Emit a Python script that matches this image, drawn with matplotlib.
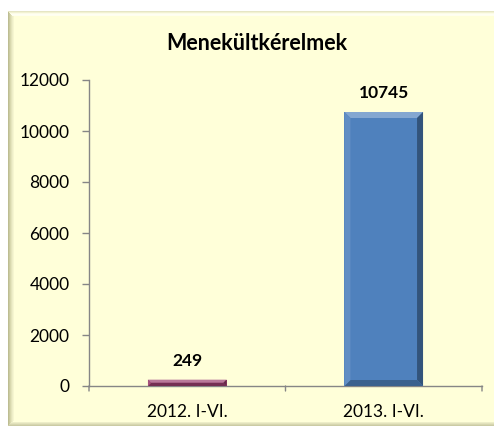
import matplotlib
matplotlib.use("Agg")
import matplotlib.pyplot as plt
from matplotlib.patches import Rectangle, Polygon
import numpy as np

categories = ["2012. I-VI.", "2013. I-VI."]
values = [249, 10745]
bar_colors = ["#9B3F6E", "#4F81BD"]
yticks = [0, 2000, 4000, 6000, 8000, 10000, 12000]
title = "Menekültkérelmek"

plt.rcParams["font.family"] = ["Lato", "DejaVu Sans"]

W, H = 494, 430
fig = plt.figure(figsize=(W / 100, H / 100), dpi=100)
fig.patch.set_facecolor("white")


def px_rect(x0, y0, x1, y1, color, z=-10):
    # rectangle in pixel coordinates measured from the top-left corner
    fig.patches.append(Rectangle((x0 / W, 1 - y1 / H), (x1 - x0) / W, (y1 - y0) / H,
                                 transform=fig.transFigure, facecolor=color,
                                 edgecolor="none", zorder=z))


# chart frame with a bevelled border
px_rect(8, 11, W, 426, "#FFFFD9", -10)
left_shades = ["#BDBD92", "#CACAA0", "#D8D8AE", "#E4E4BC", "#EEEEC8", "#F6F6D0"]
for i, c in enumerate(left_shades):
    px_rect(8 + i, 11 + i, 9 + i, 426 - i, c, -9)
top_shades = ["#E6E6C4", "#F2F2D2", "#FCFCE8", "#FFFFF2", "#FFFFEE"]
for i, c in enumerate(top_shades):
    px_rect(8 + i, 11 + i, W, 12 + i, c, -9)
bottom_shades = ["#CBCBA4", "#D6D6B0", "#E2E2BC", "#EDEDC8"]
for i, c in enumerate(bottom_shades):
    px_rect(8 + i, 425 - i, W, 426 - i, c, -9)

ax = fig.add_axes([89 / W, 1 - 386 / H, (482 - 89) / W, (386 - 80) / H])
ax.set_facecolor("none")

x = np.arange(len(categories))
bars = ax.bar(x, values, width=0.4, color=bar_colors, edgecolor="none", zorder=3)

ax.set_xlim(-0.5, len(categories) - 0.5)
ax.set_ylim(0, 12000)
ax.set_yticks(yticks)
ax.set_yticklabels([str(v) for v in yticks], fontsize=12.5, color="black")
ax.set_xticks(x)
ax.set_xticklabels(categories, fontsize=12.5)
ax.tick_params(axis="x", length=0, pad=13)
ax.tick_params(axis="y", length=5, width=1, color="#868686", pad=9)

# category boundary ticks on the x axis
for b in np.arange(-0.5, len(categories), 1.0):
    ax.annotate("", xy=(b, 0), xycoords="data", xytext=(0, -5),
                textcoords="offset pixels",
                arrowprops=dict(arrowstyle="-", color="#868686", lw=1,
                                shrinkA=0, shrinkB=0))

for s in ["top", "right"]:
    ax.spines[s].set_visible(False)
for s in ["left", "bottom"]:
    ax.spines[s].set_color("#868686")
    ax.spines[s].set_linewidth(1)

# value labels
for xi, v in zip(x, values):
    ax.annotate(str(v), xy=(xi, v), xytext=(0, 11), textcoords="offset pixels",
                ha="center", va="bottom", fontsize=12.5, fontweight="bold")

fig.text(257 / W, 1 - 44 / H, title, ha="center", va="center",
         fontsize=15.5, fontweight="bold")

# bevel on bar edges
fig.canvas.draw()
inv = fig.transFigure.inverted()


def shade(c, f):
    c = np.array(matplotlib.colors.to_rgb(c))
    if f > 0:
        return tuple(c + (1 - c) * f)
    return tuple(c * (1 + f))


for rect, col in zip(bars.patches, bar_colors):
    bb = rect.get_window_extent()
    x0, y0, x1, y1 = bb.x0, bb.y0, bb.x1, bb.y1
    d = min(6, (y1 - y0) / 2, (x1 - x0) / 2)
    faces = [
        ([(x0, y1), (x1, y1), (x1 - d, y1 - d), (x0 + d, y1 - d)], shade(col, 0.3)),
        ([(x1, y1), (x1, y0), (x1 - d, y0 + d), (x1 - d, y1 - d)], shade(col, -0.35)),
        ([(x0, y0), (x1, y0), (x1 - d, y0 + d), (x0 + d, y0 + d)], shade(col, -0.25)),
        ([(x0, y1), (x0, y0), (x0 + d, y0 + d), (x0 + d, y1 - d)], shade(col, 0.1)),
    ]
    for pts, fc in faces:
        pts_fig = inv.transform(np.array(pts))
        fig.patches.append(Polygon(pts_fig, closed=True, transform=fig.transFigure,
                                   facecolor=fc, edgecolor="none", zorder=5))

fig.savefig("out.png", dpi=100)
